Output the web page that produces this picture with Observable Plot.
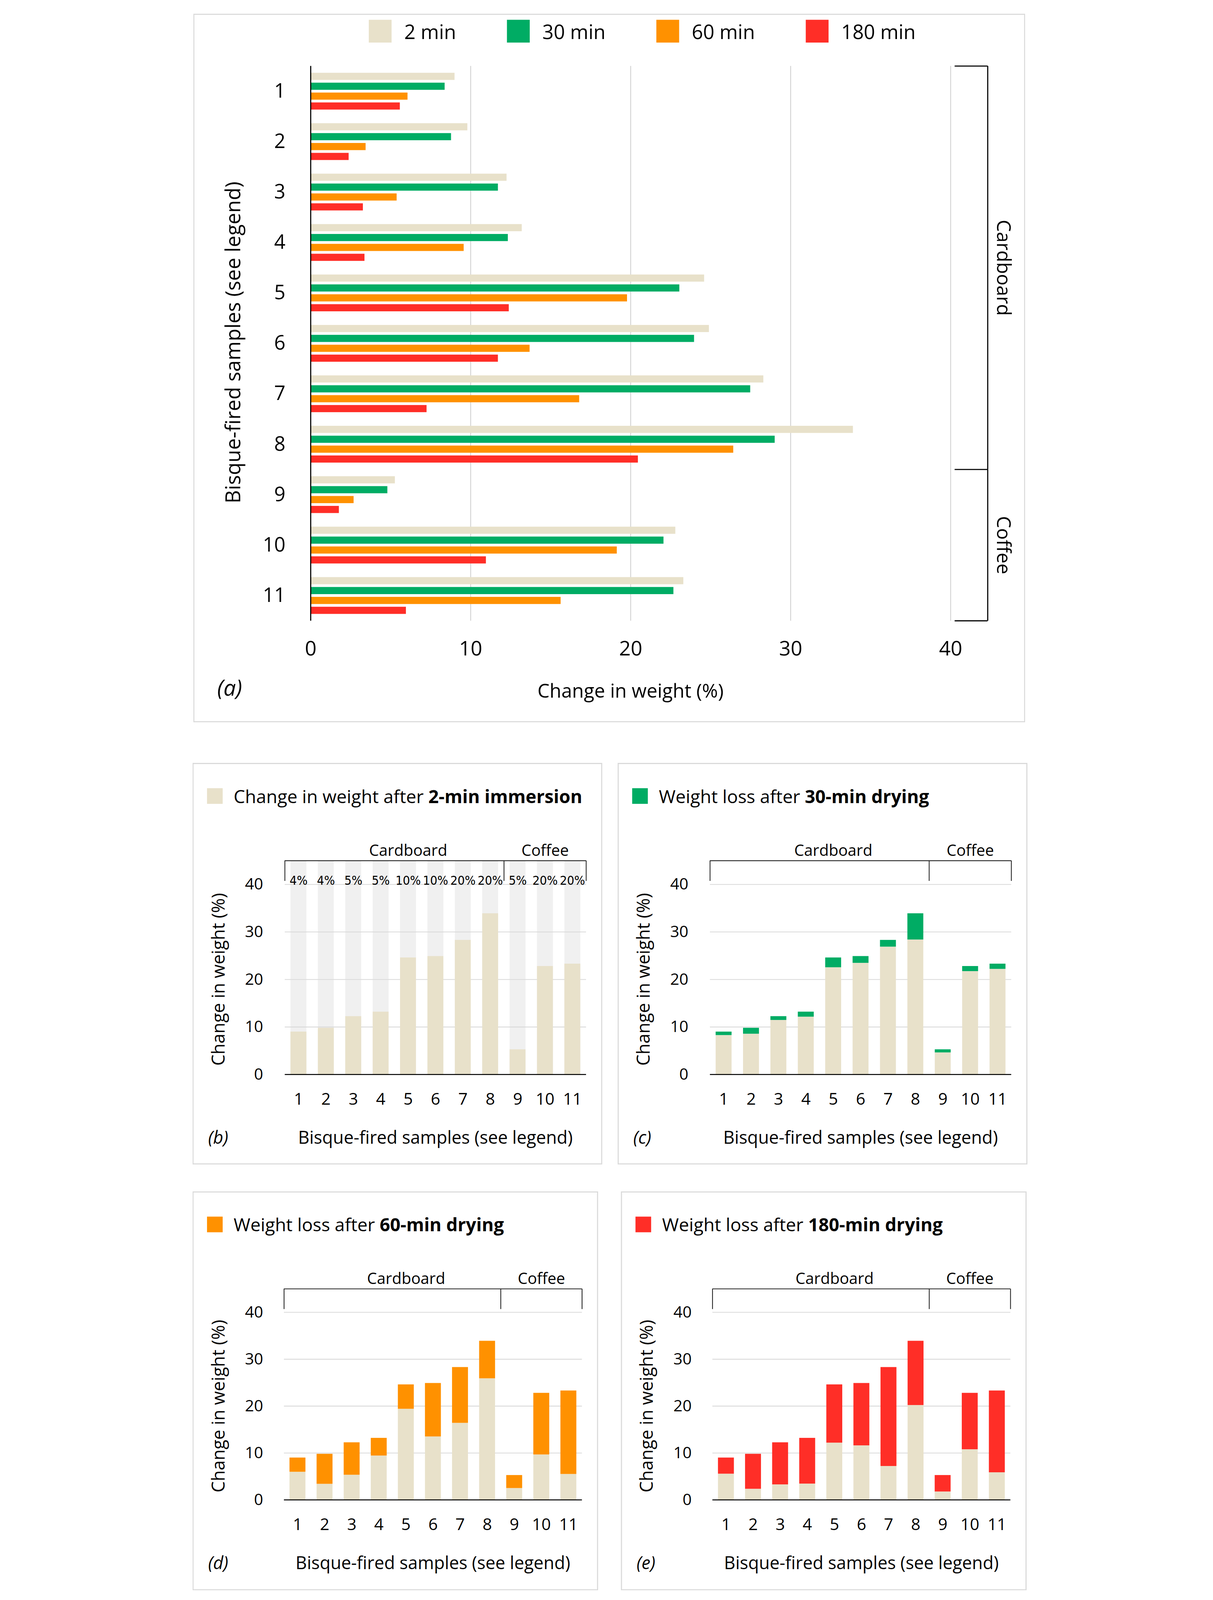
<!DOCTYPE html>
<html><head><meta charset="utf-8">
<script src="https://cdn.jsdelivr.net/npm/d3@7"></script>
<script src="https://cdn.jsdelivr.net/npm/@observablehq/plot@0.6"></script>
<style>
html,body{margin:0;padding:0;background:#fff;overflow:hidden;}
body{font-family:"Open Sans",sans-serif;color:#000;}
#root{position:absolute;left:0;top:0;width:3105px;height:5826px;background:#fff;transform-origin:0 0;}
.panel{position:absolute;box-sizing:border-box;box-shadow:inset 0 0 0 4px #dadada;}
.panel svg{position:absolute;left:0;top:0;overflow:visible;max-width:none;}
.abs{position:absolute;white-space:nowrap;line-height:1;}
.rot{transform:translate(-50%,-50%) rotate(-90deg);}
</style></head><body><div id="root"></div>
<script>
// ---------- data ----------
const samples = [1, 2, 3, 4, 5, 6, 7, 8, 9, 10, 11];
const seriesNames = ["2 min", "30 min", "60 min", "180 min"];
const seriesColors = ["#e8e1ca", "#00ac64", "#ff9100", "#ff2e27"];
const twoMin = [9.0, 9.8, 12.25, 13.2, 24.6, 24.9, 28.3, 33.9, 5.27, 22.8, 23.3];
const thirtyMin = [8.38, 8.78, 11.71, 12.33, 23.05, 23.97, 27.48, 29.01, 4.80, 22.06, 22.68];
const sixtyMin = [6.06, 3.44, 5.38, 9.57, 19.78, 13.69, 16.79, 26.42, 2.69, 19.14, 15.63];
const oneEightyMin = [5.58, 2.38, 3.27, 3.37, 12.39, 11.71, 7.25, 20.46, 1.77, 10.96, 5.96];
// remaining weight as drawn in the small panels (c), (d), (e)
const panelC_remaining = [8.27, 8.55, 11.45, 12.14, 22.54, 23.47, 26.88, 28.38, 4.62, 21.73, 22.2];
const panelD_remaining = [5.97, 3.4, 5.33, 9.43, 19.4, 13.5, 16.4, 25.9, 2.5, 9.66, 5.5];
const panelE_remaining = [5.56, 2.34, 3.28, 3.45, 12.18, 11.6, 7.2, 20.2, 1.76, 10.77, 5.86];
const concentrations = ["4%", "4%", "5%", "5%", "10%", "10%", "20%", "20%", "5%", "20%", "20%"];
const groups = [{name: "Cardboard", from: 1, to: 8}, {name: "Coffee", from: 9, to: 11}];
const xTicksA = [0, 10, 20, 30, 40];
const yTicks = [0, 10, 20, 30, 40];
const gridValues = [10, 20, 30, 40];
const yMax = 45;

const seriesValues = [twoMin, thirtyMin, sixtyMin, oneEightyMin];
const edges = [...groups.map(g => g.from - 0.5), groups[groups.length - 1].to + 0.5];
const FONT = "'Open Sans', sans-serif";
const NARROW = "'Liberation Sans Narrow', 'DejaVu Sans Condensed', Roboto, sans-serif";
const PAGE_W = 3105, PAGE_H = 5826;
const root = document.getElementById("root");

// fit the full figure into the visible window (keeps proportions)
{
  const s = Math.min(1, window.innerHeight / PAGE_H, window.innerWidth / PAGE_W);
  const off = (window.innerWidth - PAGE_W * s) / 2;
  root.style.transform = `translate(${Math.max(0, off)}px, 0px) scale(${s})`;
}

function el(parent, tag, cls, css, html) {
  const e = document.createElement(tag);
  if (cls) e.className = cls;
  Object.assign(e.style, css || {});
  if (html != null) e.innerHTML = html;
  parent.appendChild(e);
  return e;
}
function place(parent, svg, left, top) {
  svg.style.left = left + "px"; svg.style.top = top + "px";
  parent.appendChild(svg);
}

// ---------- panel (a) ----------
{
  const P = el(root, "div", "panel", {left: "48px", top: "50px", width: "3029px", height: "2580px"});
  const W = 3029, H = 2400, top = 190, bottom = 2210, left = 427, right = 2757;
  const band = (bottom - top) / samples.length;
  const rows = samples.flatMap((s, i) => seriesNames.map((name, k) => ({sample: s, series: name, k, value: seriesValues[k][i]})));
  const barMarks = seriesNames.map((name, k) => Plot.rect(rows.filter(d => d.k === k), {
    x1: 0, x2: "value", y1: d => d.sample - 0.5, y2: d => d.sample + 0.5,
    fill: seriesColors[k], insetTop: 25 + 36 * k, insetBottom: band - 51 - 36 * k
  }));
  const chart = Plot.plot({
    width: W, height: H, marginTop: top, marginBottom: H - bottom, marginLeft: left, marginRight: W - right,
    x: {domain: [0, 40]}, y: {domain: [0.5, 11.5], reverse: true},
    style: {fontFamily: FONT, fontSize: "72px", color: "#000", background: "transparent", overflow: "visible"},
    marks: [
      Plot.ruleX(gridValues, {stroke: "#cfcfcf", strokeWidth: 3}),
      ...barMarks,
      Plot.ruleX([0], {stroke: "#000", strokeWidth: 4}),
      Plot.axisX({ticks: xTicksA, tickSize: 0, tickPadding: 73, label: null, fontSize: 74}),
      Plot.axisY({ticks: samples, tickSize: 0, tickPadding: 92, label: null, tickFormat: d => String(d), fontSize: 72})
    ]
  });
  place(P, chart, 0, 0);

  const bracket = Plot.plot({
    width: 257, height: H, marginTop: top, marginBottom: H - bottom, marginLeft: 0, marginRight: 137,
    x: {domain: [0, 1], axis: null}, y: {domain: [0.5, 11.5], reverse: true, axis: null},
    style: {fontFamily: FONT, background: "transparent", overflow: "visible"},
    marks: [
      Plot.ruleY(edges, {x1: 0, x2: 1, stroke: "#000", strokeWidth: 4}),
      Plot.ruleX(groups, {x: 1, y1: d => d.from - 0.5, y2: d => d.to + 0.5, stroke: "#000", strokeWidth: 4}),
      Plot.text(groups, {x: 1, y: d => (d.from + d.to) / 2, text: "name", rotate: 90, dx: 56, fontSize: 70, fill: "#000"})
    ]
  });
  place(P, bracket, 2772, 0);

  // legend
  const L = el(P, "div", "abs", {left: "639px", top: "22px", display: "flex", alignItems: "center"});
  seriesNames.forEach((name, k) => {
    const item = el(L, "div", null, {display: "flex", alignItems: "center", marginRight: k < seriesNames.length - 1 ? "185px" : "0"});
    el(item, "div", null, {width: "83px", height: "83px", background: seriesColors[k], marginRight: "46px"});
    el(item, "div", null, {fontSize: "72px", lineHeight: "1", whiteSpace: "nowrap"}, name);
  });
  el(P, "div", "abs", {left: "1592px", top: "2428px", fontSize: "70px", transform: "translateX(-50%)"}, "Change in weight (%)");
  el(P, "div", "abs rot", {left: "143px", top: "1197px", fontSize: "75px"}, "Bisque-fired samples (see legend)");
  el(P, "div", "abs", {left: "87px", top: "2412px", fontSize: "80px", fontStyle: "italic"}, "(a)");
}

// ---------- small panels ----------
function smallPanel(cfg) {
  const P = el(root, "div", "panel", {left: cfg.left + "px", top: cfg.top + "px", width: cfg.w + "px", height: cfg.h + "px"});
  const unit = (cfg.y0 - cfg.y40) / 40;
  const y45 = cfg.y0 - yMax * unit;
  const H = cfg.y0 + 140;
  const band = (cfg.x115 - cfg.x05) / samples.length;
  const inset = (band - 58) / 2;
  const rows = samples.map((s, i) => ({sample: s, total: twoMin[i], rest: cfg.rest ? cfg.rest[i] : null, pct: concentrations[i]}));
  const bx = {x1: d => d.sample - 0.5, x2: d => d.sample + 0.5, insetLeft: inset, insetRight: inset};
  const marks = [];
  if (!cfg.rest) marks.push(Plot.rect(rows, {...bx, y1: 0, y2: yMax, fill: "#f0f0f0"}));
  marks.push(Plot.ruleY(gridValues, {stroke: "#d9d9d9", strokeWidth: 3}));
  if (cfg.rest) {
    marks.push(Plot.rect(rows, {...bx, y1: 0, y2: "rest", fill: seriesColors[0]}));
    marks.push(Plot.rect(rows, {...bx, y1: "rest", y2: "total", fill: cfg.color}));
  } else {
    marks.push(Plot.rect(rows, {...bx, y1: 0, y2: "total", fill: seriesColors[0]}));
    marks.push(Plot.text(rows, {x: "sample", frameAnchor: "top", dy: 55, text: "pct", fontSize: 46, fontFamily: NARROW, fill: "#000"}));
  }
  marks.push(
    Plot.ruleY([0], {x1: edges[0], x2: edges[edges.length - 1], stroke: "#000", strokeWidth: 3.5}),
    Plot.ruleY([yMax], {x1: edges[0], x2: edges[edges.length - 1], stroke: "#222", strokeWidth: 3}),
    Plot.ruleX(edges, {stroke: "#222", strokeWidth: 3, insetBottom: (cfg.y0 - y45) - 74}),
    Plot.text(groups.slice(0, 1), {x: d => (d.from + d.to) / 2, frameAnchor: "top", dy: -58, dx: 50, text: "name", fontSize: 57, fill: "#000"}),
    Plot.text(groups.slice(1), {x: d => (d.from + d.to) / 2, frameAnchor: "top", dy: -58, text: "name", fontSize: 57, fill: "#000"}),
    Plot.axisX({ticks: samples, tickSize: 0, tickPadding: 68, label: null, tickFormat: d => String(d), fontSize: 60}),
    Plot.axisY({ticks: yTicks, tickSize: 0, tickPadding: cfg.x05 - 257, label: null, fontSize: 58})
  );
  const chart = Plot.plot({
    width: cfg.w, height: H, marginTop: y45, marginBottom: H - cfg.y0, marginLeft: cfg.x05, marginRight: cfg.w - cfg.x115,
    x: {domain: [0.5, 11.5]}, y: {domain: [0, yMax]},
    style: {fontFamily: FONT, fontSize: "58px", color: "#000", background: "transparent", overflow: "visible"},
    marks
  });
  place(P, chart, 0, 0);
  el(P, "div", "abs", {left: "53px", top: "92px", width: "57px", height: "57px", background: cfg.color});
  el(P, "div", "abs", {left: "150px", top: "87px", fontSize: "66px"}, cfg.legend);
  el(P, "div", "abs", {left: ((cfg.x05 + cfg.x115) / 2) + "px", top: (cfg.y0 + 196) + "px", fontSize: "64px", transform: "translateX(-50%)"}, "Bisque-fired samples (see legend)");
  el(P, "div", "abs rot", {left: "92px", top: ((cfg.y0 + cfg.y40) / 2) + "px", fontSize: "65px"}, "Change in weight (%)");
  el(P, "div", "abs", {left: "57px", top: (cfg.y0 + 196) + "px", fontSize: "64px", fontStyle: "italic"}, cfg.tag);
}

const topRow = {w: 1492, h: 1462, x05: 336, x115: 1433, y0: 1134, y40: 442};
const botRow = {w: 1477, h: 1453, x05: 333, x115: 1418, y0: 1123, y40: 440};
smallPanel({...topRow, left: 45, top: 2778, tag: "(b)", color: seriesColors[0], rest: null,
  legend: "Change in weight after <b>2-min immersion</b>"});
smallPanel({...topRow, left: 1593, top: 2778, tag: "(c)", color: seriesColors[1], rest: panelC_remaining,
  legend: "Weight loss after <b>30-min drying</b>"});
smallPanel({...botRow, left: 45, top: 4338, tag: "(d)", color: seriesColors[2], rest: panelD_remaining,
  legend: "Weight loss after <b>60-min drying</b>"});
smallPanel({...botRow, left: 1605, top: 4338, tag: "(e)", color: seriesColors[3], rest: panelE_remaining,
  legend: "Weight loss after <b>180-min drying</b>"});
</script></body></html>
